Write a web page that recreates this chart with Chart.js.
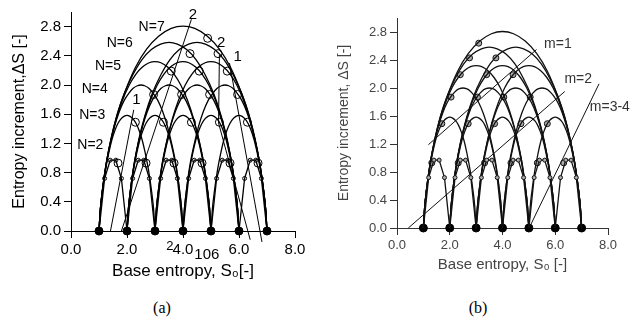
<!DOCTYPE html>
<html>
<head>
<meta charset="utf-8">
<script src="https://cdn.jsdelivr.net/npm/chart.js@4.4.1/dist/chart.umd.min.js"></script>
<style>
  body { margin: 0; background: #fff; width: 635px; height: 329px; position: relative; overflow: hidden; }
  .panel { position: absolute; top: 0; }
  .cap { position: absolute; top: 299px; font: 16px "Liberation Serif", "Times New Roman", serif; transform: translateX(-50%); color: #000; }
</style>
</head>
<body>
<div class="panel" style="left:0"><canvas id="chartA" width="318" height="290"></canvas></div>
<div class="panel" style="left:318px"><canvas id="chartB" width="317" height="290"></canvas></div>
<div class="cap" style="left:162px">(a)</div>
<div class="cap" style="left:478px">(b)</div>
<script>
// arch shapes, offset t from the arch start and entropy increment
const n2T = [0, 0.2, 0.4, 0.6, 0.8, 1];
const n2Y = [0, 0.72, 0.97, 0.97, 0.72, 0];
const n3T = [0, 0.05, 0.11, 0.23, 0.35, 0.46, 0.57, 0.67, 0.77, 0.89, 1, 1.11, 1.23, 1.33, 1.43, 1.54, 1.65, 1.77, 1.89, 1.95, 2];
const n3Y = [0, 0.30, 0.51, 0.83, 1.07, 1.25, 1.38, 1.47, 1.53, 1.57, 1.585, 1.57, 1.53, 1.47, 1.38, 1.25, 1.07, 0.83, 0.51, 0.30, 0];
const n4T = [0, 0.05, 0.11, 0.24, 0.40, 0.56, 0.73, 0.90, 1.07, 1.22, 1.37, 1.5, 1.63, 1.78, 1.93, 2.10, 2.27, 2.44, 2.60, 2.76, 2.89, 2.95, 3];
const n4Y = [0, 0.30, 0.52, 0.885, 1.19, 1.44, 1.64, 1.79, 1.89, 1.955, 1.99, 2.0, 1.99, 1.955, 1.89, 1.79, 1.64, 1.44, 1.19, 0.885, 0.52, 0.30, 0];
const n5T = [0, 0.05, 0.11, 0.25, 0.42, 0.62, 0.84, 1.08, 1.32, 1.56, 1.79, 2, 2.21, 2.44, 2.68, 2.92, 3.16, 3.38, 3.58, 3.75, 3.89, 3.95, 4];
const n5Y = [0, 0.30, 0.52, 0.90, 1.23, 1.535, 1.79, 2.0, 2.15, 2.25, 2.305, 2.32, 2.305, 2.25, 2.15, 2.0, 1.79, 1.535, 1.23, 0.90, 0.52, 0.30, 0];
const n6T = [0, 0.05, 0.11, 0.25, 0.42, 0.64, 0.90, 1.21, 1.53, 1.87, 2.2, 2.5, 2.8, 3.13, 3.47, 3.79, 4.10, 4.36, 4.58, 4.75, 4.89, 4.95, 5];
const n6Y = [0, 0.30, 0.52, 0.90, 1.25, 1.58, 1.88, 2.14, 2.345, 2.485, 2.56, 2.585, 2.56, 2.485, 2.345, 2.14, 1.88, 1.58, 1.25, 0.90, 0.52, 0.30, 0];
const n7T = [0, 0.05, 0.11, 0.25, 0.43, 0.65, 0.95, 1.30, 1.70, 2.14, 2.58, 3, 3.42, 3.86, 4.30, 4.70, 5.05, 5.35, 5.57, 5.75, 5.89, 5.95, 6];
const n7Y = [0, 0.30, 0.52, 0.90, 1.255, 1.60, 1.93, 2.24, 2.49, 2.67, 2.775, 2.807, 2.775, 2.67, 2.49, 2.24, 1.93, 1.60, 1.255, 0.90, 0.52, 0.30, 0];

// integer base entropies where the arches start / end
const baseS0 = [1, 2, 3, 4, 5, 6, 7];
const baseY = [0, 0, 0, 0, 0, 0, 0];

// open circles, panel (a) (right side) and panel (b) (left side)
const markAX = [1.68, 2.68, 3.68, 4.68, 5.68, 6.68, 2.3, 3.3, 4.3, 5.3, 6.3, 2.95, 3.95, 4.95, 5.95, 3.58, 4.58, 5.58, 4.25, 5.25, 4.88];
const markAY = [0.93, 0.93, 0.93, 0.93, 0.93, 0.93, 1.49, 1.49, 1.49, 1.49, 1.49, 1.87, 1.87, 1.87, 1.87, 2.19, 2.19, 2.19, 2.43, 2.43, 2.64];
const markBX = [1.32, 2.32, 3.32, 4.32, 5.32, 6.32, 1.7, 2.7, 3.7, 4.7, 5.7, 2.05, 3.05, 4.05, 5.05, 2.4, 3.4, 4.4, 2.75, 3.75, 3.1];
const markBY = [0.93, 0.93, 0.93, 0.93, 0.93, 0.93, 1.49, 1.49, 1.49, 1.49, 1.49, 1.87, 1.87, 1.87, 1.87, 2.19, 2.19, 2.19, 2.43, 2.43, 2.64];

// straight guide lines
const a1LeftX = [1.41, 2.24], a1LeftY = [0, 1.66];
const a2TopX = [1.80, 4.30], a2TopY = [0, 2.90];
const a2RightX = [5.30, 5.27, 6.40], a2RightY = [2.41, 1.48, -0.12];
const a1RightX = [5.66, 6.82], a1RightY = [2.30, -0.15];
const m1X = [1.19, 5.29], m1Y = [1.19, 2.55];
const m2X = [0.43, 6.36], m2Y = [0, 1.95];
const m34X = [5.01, 7.66], m34Y = [0, 2.06];

// text labels
const aLabText = ['N=2', 'N=3', 'N=4', 'N=5', 'N=6', 'N=7', '1', '2', '2', '1', '2', '106'];
const aLabX = [0.69, 0.76, 0.85, 1.32, 1.74, 2.88, 2.34, 4.35, 5.36, 5.95, 3.53, 4.85];
const aLabY = [1.18, 1.59, 1.94, 2.26, 2.58, 2.79, 1.79, 2.96, 2.58, 2.38, -0.215, -0.33];
const bLabText = ['m=1', 'm=2', 'm=3-4'];
const bLabX = [6.10, 6.87, 8.07];
const bLabY = [2.62, 2.13, 1.73];

const FONT = '"Liberation Sans", Arial, sans-serif';
const shapes = [[n2T, n2Y], [n3T, n3Y], [n4T, n4Y], [n5T, n5Y], [n6T, n6Y], [n7T, n7Y]];
const pts = (xs, ys) => xs.map((x, i) => ({ x: x, y: ys[i] }));

const textMarks = {
  id: 'textMarks',
  afterDatasetsDraw(chart, args, opts) {
    const { ctx, scales: { x, y } } = chart;
    ctx.save();
    ctx.textAlign = 'center';
    ctx.textBaseline = 'middle';
    opts.items.forEach(it => {
      ctx.font = it.font;
      ctx.fillStyle = it.color;
      ctx.fillText(it.text, x.getPixelForValue(it.x), y.getPixelForValue(it.y));
    });
    ctx.restore();
  }
};

function buildDatasets(p) {
  const sets = [];
  shapes.forEach(([t, y]) => {
    const w = t[t.length - 1];
    baseS0.filter(k => k + w <= 7).forEach(k => {
      sets.push({
        data: t.map((v, i) => ({ x: k + v, y: y[i] })),
        showLine: true, borderColor: p.line, borderWidth: p.archW,
        cubicInterpolationMode: w > 1 ? 'monotone' : 'default', tension: 0,
        pointRadius: w > 1 ? 0 : [0, 2, 2, 2, 2, 0],
        pointBorderColor: p.line, pointBorderWidth: 1, pointBackgroundColor: p.smallFill,
        clip: false
      });
    });
  });
  p.lines.forEach(([xs, ys]) => sets.push({
    data: pts(xs, ys), showLine: true, borderColor: p.line, borderWidth: 1, pointRadius: 0, clip: false
  }));
  sets.push({
    data: pts(p.markX, p.markY), pointRadius: p.markR, pointBorderWidth: 1,
    pointBorderColor: p.line, pointBackgroundColor: p.markFill, clip: false
  });
  sets.push({
    data: pts(baseS0, baseY), pointRadius: 4, pointBorderWidth: 1,
    pointBorderColor: '#000', pointBackgroundColor: '#000', clip: false
  });
  return sets;
}

function makePanel(id, p) {
  new Chart(document.getElementById(id), {
    type: 'scatter',
    data: { datasets: buildDatasets(p) },
    options: {
      responsive: false, animation: false, devicePixelRatio: 1,
      layout: { padding: { left: 0, top: p.top, right: p.right, bottom: 0 } },
      plugins: {
        legend: { display: false }, tooltip: { enabled: false },
        textMarks: { items: p.labels }
      },
      scales: {
        x: {
          type: 'linear', min: 0, max: 8,
          ticks: { stepSize: 2, padding: 3, color: p.text, font: { family: FONT, size: p.tickSize }, maxRotation: 0, callback: v => v.toFixed(1) },
          grid: { drawOnChartArea: false, tickLength: 7, color: p.axis },
          border: { color: p.axis },
          title: { display: true, text: p.xTitle, color: p.text, font: { family: FONT, size: p.titleSize }, padding: { top: 0, bottom: p.xTitlePad } },
          afterFit: s => { s.height = p.xH; }
        },
        y: {
          type: 'linear', min: 0, max: 3,
          ticks: { stepSize: 0.2, padding: 3, color: p.text, font: { family: FONT, size: p.tickSize },
            callback: v => (Math.round(v * 10) % 4 === 0 && v < 2.95) ? v.toFixed(1) : '' },
          grid: { drawOnChartArea: false, tickLength: 7, color: p.axis },
          border: { color: p.axis },
          title: { display: true, text: p.yTitle, color: p.text, font: { family: FONT, size: p.yTitleSize }, padding: { top: p.yTitlePad, bottom: 0 } },
          afterFit: s => { s.width = p.yW; }
        }
      }
    },
    plugins: [textMarks]
  });
}

makePanel('chartA', {
  top: 12, right: 23, xH: 59, yW: 71,
  line: '#000', axis: '#000', text: '#000', smallFill: 'rgba(0,0,0,0)', markFill: 'rgba(0,0,0,0)', markR: 4, archW: 1.3,
  tickSize: 15, titleSize: 17, yTitleSize: 16, xTitlePad: 8, yTitlePad: 10,
  xTitle: 'Base entropy, S\u2080[-]', yTitle: 'Entropy increment,\u0394S [-]',
  markX: markAX, markY: markAY,
  lines: [[a1LeftX, a1LeftY], [a2TopX, a2TopY], [a2RightX, a2RightY], [a1RightX, a1RightY]],
  labels: aLabText.map((t, i) => ({
    text: t, x: aLabX[i], y: aLabY[i], color: '#000',
    font: (t.startsWith('N') ? 14 : (i === 10 ? 13 : 15)) + 'px ' + FONT
  }))
});

makePanel('chartB', {
  top: 18, right: 27, xH: 62, yW: 79,
  line: '#111', axis: '#333', text: '#444', smallFill: '#aaa', markFill: '#aaa', markR: 3, archW: 1.3,
  tickSize: 13, titleSize: 15, yTitleSize: 14, xTitlePad: 16, yTitlePad: 18,
  xTitle: 'Base entropy, S\u2080 [-]', yTitle: 'Entropy increment, \u0394S [-]',
  markX: markBX, markY: markBY,
  lines: [[m1X, m1Y], [m2X, m2Y], [m34X, m34Y]],
  labels: bLabText.map((t, i) => ({ text: t, x: bLabX[i], y: bLabY[i], color: '#333', font: '14px ' + FONT }))
});
</script>
</body>
</html>
